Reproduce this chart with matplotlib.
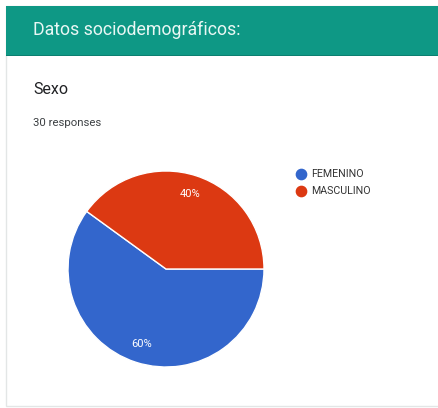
import matplotlib
matplotlib.use("Agg")
import matplotlib.pyplot as plt
from matplotlib.patches import Rectangle

section_title = "Datos sociodemográficos:"
question = "Sexo"
responses = "30 responses"
categories = ["FEMENINO", "MASCULINO"]
values = [60, 40]
colors = ["#3366cc", "#dc3912"]

W, H = 438, 408
fig = plt.figure(figsize=(W / 100, H / 100), dpi=100)
fig.patch.set_facecolor("white")

def fx(px):
    return px / W

def fy(py):
    return 1 - py / H

# card border
fig.patches.append(Rectangle((fx(6), fy(406)), fx(438) - fx(6) + 0.01, fy(6) - fy(406),
                             transform=fig.transFigure, facecolor="white",
                             edgecolor="#e3e6e6", linewidth=1.0, zorder=-2))
# header
fig.patches.append(Rectangle((fx(6), fy(55)), 1.0, fy(6) - fy(55),
                             transform=fig.transFigure, facecolor="#0e9885",
                             edgecolor="none", zorder=-1))
fig.patches.append(Rectangle((fx(6), fy(56)), 1.0, 1 / H,
                             transform=fig.transFigure, facecolor="#0b7f70",
                             edgecolor="none", zorder=-1))

fig.text(fx(33), fy(30), section_title, color="#e9f7f4", fontsize=12.8,
         family=["Roboto", "DejaVu Sans"], va="center", ha="left")
fig.text(fx(33), fy(90), question, color="#202124", fontsize=11.5,
         family=["Roboto", "DejaVu Sans"], va="center", ha="left")
fig.text(fx(33), fy(123), responses, color="#3c4043", fontsize=8.2,
         family=["Roboto", "DejaVu Sans"], va="center", ha="left")

# pie
cx, cy, r = 166, 269, 98
ax = fig.add_axes([fx(cx - r), fy(cy + r), fx(2 * r), fy(cy - r) - fy(cy + r)])
ax.set_zorder(5)
ax.patch.set_visible(False)
wedges, texts, autotexts = ax.pie(values, colors=colors, startangle=144, counterclock=True,
                                  autopct=lambda p: f"{p:.0f}%", pctdistance=0.81,
                                  wedgeprops=dict(edgecolor="white", linewidth=1.0),
                                  textprops=dict(color="white", fontsize=8,
                                                 family=["Roboto", "DejaVu Sans"]))
ax.set_xlim(-1, 1)
ax.set_ylim(-1, 1)
ax.set_aspect("equal")
ax.axis("off")

# legend
for i, (cat, col) in enumerate(zip(categories, colors)):
    y = 173.5 + i * 17
    fig.text(fx(311), fy(y), cat, color="#333333", fontsize=7.7,
             family=["Roboto", "DejaVu Sans"], va="center", ha="left")
    fig.add_artist(plt.Line2D([fx(301)], [fy(y)], marker="o", markersize=7.4,
                              color=col, linestyle="none", transform=fig.transFigure))

fig.savefig("out.png", dpi=100, facecolor="white")
